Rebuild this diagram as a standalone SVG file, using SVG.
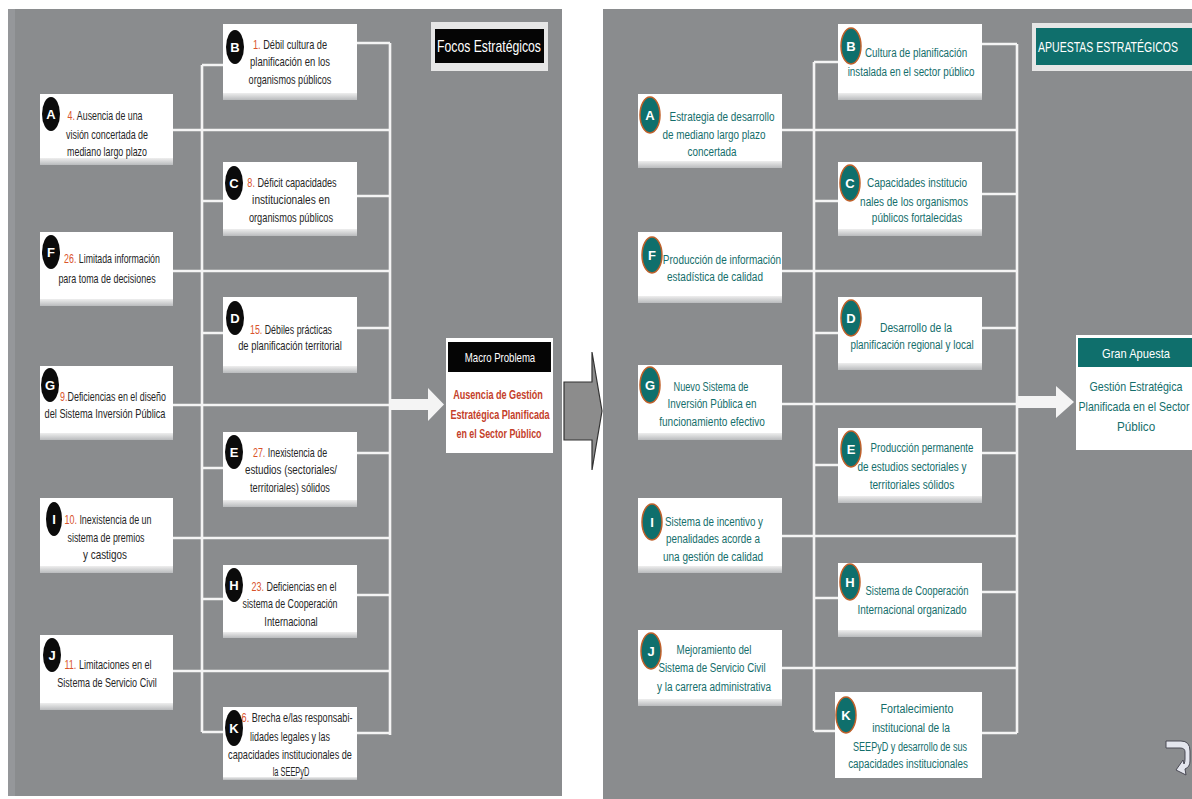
<svg xmlns="http://www.w3.org/2000/svg" width="1192" height="799" viewBox="0 0 1192 799">
  <defs>
    <linearGradient id="shade" x1="0" y1="0" x2="0" y2="1">
      <stop offset="0" stop-color="#eeeeee"/>
      <stop offset="1" stop-color="#b9bbbd"/>
    </linearGradient>
    <style>
      .panel { fill: #8a8c8e; }
      .box { fill: #ffffff; }
      .strip { fill: url(#shade); }
      .bus { stroke: #f4f4f4; stroke-width: 2.6; fill: none; }
      .arrow { fill: #f4f4f4; }
      text { font-family: 'Liberation Sans', Arial, sans-serif; }
      .lt { font-size: 13px; fill: #262626; text-anchor: middle; }
      .num { fill: #d9542b; }
      .rt { font-size: 13.5px; fill: #146e6b; text-anchor: middle; }
      .dot-k { fill: #0b0b0b; }
      .dot-t { fill: #0f6f6c; stroke: #c0602a; stroke-width: 1.5; }
      .badge { font-size: 13px; font-weight: bold; fill: #ffffff; text-anchor: middle; }
      .head { font-size: 12.5px; fill: #ffffff; text-anchor: middle; }
      .title { font-size: 16px; fill: #ffffff; }
      .red { font-size: 13px; font-weight: bold; fill: #c4402a; text-anchor: middle; }
      .teal { font-size: 13.5px; fill: #146e6b; text-anchor: middle; }
    </style>
  </defs>

  <rect width="1192" height="799" fill="#ffffff"/>

  <!-- left panel: causes -->
  <rect class="panel" x="8" y="9" width="554" height="787"/>
  <rect x="8" y="9" width="7" height="787" fill="#95979a"/>
  <!-- right panel: strategic bets -->
  <rect class="panel" x="603" y="9" width="589" height="790"/>

  <!-- transition arrow between panels -->
  <polygon points="564,382 592,382 592,352 602,411 592,470 592,440 564,440" fill="#8c8c8c" stroke="#333333" stroke-width="1.2"/>

  <!-- connectors -->
  <g id="connectors">
    <path class="bus" d="M202,65 V732 M390,43 V735
      M173,130 H390 M173,271 H390 M173,405 H390 M173,538 H390 M173,671 H390
      M202,65 H223 M357,43 H390
      M202,201 H223 M357,196 H390
      M202,333 H223 M357,328 H390
      M202,468 H223 M357,453 H390
      M202,599 H223 M357,595 H390
      M202,732 H223 M357,733 H390"/>
    <polygon class="arrow" points="390,399 428,399 428,388 444,404.5 428,421 428,410 390,410"/>
    <path class="bus" d="M814,62 V731 M1017,44 V733
      M782,130 H1017 M782,271 H1017 M782,404 H1017 M782,536 H1017 M782,668 H1017
      M814,62 H838 M982,44 H1017
      M814,201 H838 M982,194 H1017
      M814,333 H838 M982,328 H1017
      M814,465 H838 M982,453 H1017
      M814,598 H838 M982,592 H1017
      M814,731 H838 M982,733 H1017"/>
    <polygon class="arrow" points="1017,396 1056,396 1056,386 1074,402 1056,418 1056,408 1017,408"/>
  </g>

  <!-- panel titles -->
  <g id="focos-title">
    <rect x="431" y="22" width="117" height="49" fill="#e6e6e6"/>
    <rect x="435" y="29" width="109" height="34" fill="#050505"/>
    <text class="title" text-anchor="middle" transform="translate(489 52) scale(0.8 1)" textLength="130" lengthAdjust="spacingAndGlyphs">Focos Estratégicos</text>
  </g>
  <g id="apuestas-title">
    <rect x="1032" y="23" width="160" height="48" fill="#e6e6e6"/>
    <rect x="1036" y="28" width="156" height="37" fill="#0f6f6c"/>
    <text class="title" style="font-size:14px" transform="translate(1038 52) scale(0.8 1)" textLength="175" lengthAdjust="spacingAndGlyphs">APUESTAS ESTRATÉGICOS</text>
  </g>

  <!-- left panel, outer column -->
  <g id="foco-a">
    <rect class="box" x="40" y="94" width="133" height="71"/>
    <rect class="strip" x="40" y="158" width="133" height="7"/>
    <ellipse class="dot-k" cx="51" cy="114" rx="9" ry="17"/>
    <text class="badge" x="51" y="119">A</text>
    <text class="lt" transform="translate(105 120) scale(0.72 1)" textLength="104" lengthAdjust="spacingAndGlyphs"><tspan class="num">4.</tspan> Ausencia de una</text>
    <text class="lt" transform="translate(107 139) scale(0.72 1)" textLength="114" lengthAdjust="spacingAndGlyphs">visión concertada de</text>
    <text class="lt" transform="translate(107 156) scale(0.72 1)" textLength="111" lengthAdjust="spacingAndGlyphs">mediano largo plazo</text>
  </g>
  <g id="foco-f">
    <rect class="box" x="40" y="232" width="133" height="74"/>
    <rect class="strip" x="40" y="299" width="133" height="7"/>
    <ellipse class="dot-k" cx="51" cy="252" rx="9" ry="17"/>
    <text class="badge" x="51" y="257">F</text>
    <text class="lt" transform="translate(112 263) scale(0.72 1)" textLength="133" lengthAdjust="spacingAndGlyphs"><tspan class="num">26.</tspan> Limitada información</text>
    <text class="lt" transform="translate(107 283) scale(0.72 1)" textLength="135" lengthAdjust="spacingAndGlyphs">para toma de decisiones</text>
  </g>
  <g id="foco-g">
    <rect class="box" x="40" y="366" width="133" height="74"/>
    <rect class="strip" x="40" y="433" width="133" height="7"/>
    <ellipse class="dot-k" cx="50" cy="385" rx="9" ry="17"/>
    <text class="badge" x="50" y="390">G</text>
    <text class="lt" transform="translate(113 401) scale(0.72 1)" textLength="147" lengthAdjust="spacingAndGlyphs"><tspan class="num">9.</tspan>Deficiencias en el diseño</text>
    <text class="lt" transform="translate(105 418) scale(0.72 1)" textLength="168" lengthAdjust="spacingAndGlyphs">del Sistema  Inversión Pública</text>
  </g>
  <g id="foco-i">
    <rect class="box" x="40" y="498" width="133" height="75"/>
    <rect class="strip" x="40" y="566" width="133" height="7"/>
    <ellipse class="dot-k" cx="54" cy="519" rx="8" ry="17"/>
    <text class="badge" x="54" y="524">I</text>
    <text class="lt" transform="translate(108 524) scale(0.72 1)" textLength="121" lengthAdjust="spacingAndGlyphs"><tspan class="num">10.</tspan> Inexistencia de un</text>
    <text class="lt" transform="translate(106 542) scale(0.72 1)" textLength="107" lengthAdjust="spacingAndGlyphs">sistema de premios</text>
    <text class="lt" transform="translate(105 559) scale(0.72 1)" textLength="61" lengthAdjust="spacingAndGlyphs">y castigos</text>
  </g>
  <g id="foco-j">
    <rect class="box" x="40" y="635" width="133" height="75"/>
    <rect class="strip" x="40" y="703" width="133" height="7"/>
    <ellipse class="dot-k" cx="52" cy="655" rx="9" ry="17"/>
    <text class="badge" x="52" y="660">J</text>
    <text class="lt" transform="translate(108 669) scale(0.72 1)" textLength="121" lengthAdjust="spacingAndGlyphs"><tspan class="num">11.</tspan> Limitaciones en el</text>
    <text class="lt" transform="translate(107 687) scale(0.72 1)" textLength="138" lengthAdjust="spacingAndGlyphs">Sistema de Servicio Civil</text>
  </g>

  <!-- left panel, inner column -->
  <g id="foco-b">
    <rect class="box" x="223" y="24" width="134" height="76"/>
    <rect class="strip" x="223" y="93" width="134" height="7"/>
    <ellipse class="dot-k" cx="235" cy="47" rx="9" ry="17"/>
    <text class="badge" x="235" y="52">B</text>
    <text class="lt" transform="translate(290 49) scale(0.72 1)" textLength="103" lengthAdjust="spacingAndGlyphs"><tspan class="num">1.</tspan> Débil cultura de</text>
    <text class="lt" transform="translate(290 66) scale(0.72 1)" textLength="111" lengthAdjust="spacingAndGlyphs">planificación en los</text>
    <text class="lt" transform="translate(290 84) scale(0.72 1)" textLength="115" lengthAdjust="spacingAndGlyphs">organismos públicos</text>
  </g>
  <g id="foco-c">
    <rect class="box" x="223" y="162" width="134" height="74"/>
    <rect class="strip" x="223" y="229" width="134" height="7"/>
    <ellipse class="dot-k" cx="234" cy="183" rx="9" ry="17"/>
    <text class="badge" x="234" y="188">C</text>
    <text class="lt" transform="translate(292 187) scale(0.72 1)" textLength="124" lengthAdjust="spacingAndGlyphs"><tspan class="num">8.</tspan> Déficit capacidades</text>
    <text class="lt" transform="translate(291 204) scale(0.72 1)" textLength="108" lengthAdjust="spacingAndGlyphs">institucionales en</text>
    <text class="lt" transform="translate(291 222) scale(0.72 1)" textLength="117" lengthAdjust="spacingAndGlyphs">organismos públicos</text>
  </g>
  <g id="foco-d">
    <rect class="box" x="223" y="297" width="134" height="76"/>
    <rect class="strip" x="223" y="366" width="134" height="7"/>
    <ellipse class="dot-k" cx="235" cy="318" rx="9" ry="17"/>
    <text class="badge" x="235" y="323">D</text>
    <text class="lt" transform="translate(291 334) scale(0.72 1)" textLength="114" lengthAdjust="spacingAndGlyphs"><tspan class="num">15.</tspan> Débiles prácticas</text>
    <text class="lt" transform="translate(290 350) scale(0.72 1)" textLength="144" lengthAdjust="spacingAndGlyphs">de planificación territorial</text>
  </g>
  <g id="foco-e">
    <rect class="box" x="223" y="432" width="134" height="75"/>
    <rect class="strip" x="223" y="500" width="134" height="7"/>
    <ellipse class="dot-k" cx="234" cy="452" rx="9" ry="17"/>
    <text class="badge" x="234" y="457">E</text>
    <text class="lt" transform="translate(290 457) scale(0.72 1)" textLength="103" lengthAdjust="spacingAndGlyphs"><tspan class="num">27.</tspan> Inexistencia de</text>
    <text class="lt" transform="translate(291 474) scale(0.72 1)" textLength="128" lengthAdjust="spacingAndGlyphs">estudios (sectoriales/</text>
    <text class="lt" transform="translate(290 492) scale(0.72 1)" textLength="111" lengthAdjust="spacingAndGlyphs">territoriales) sólidos</text>
  </g>
  <g id="foco-h">
    <rect class="box" x="223" y="565" width="134" height="73"/>
    <rect class="strip" x="223" y="632" width="134" height="6"/>
    <ellipse class="dot-k" cx="234" cy="585" rx="9" ry="17"/>
    <text class="badge" x="234" y="590">H</text>
    <text class="lt" transform="translate(294 591) scale(0.72 1)" textLength="118" lengthAdjust="spacingAndGlyphs"><tspan class="num">23.</tspan> Deficiencias en el</text>
    <text class="lt" transform="translate(290 608) scale(0.72 1)" textLength="132" lengthAdjust="spacingAndGlyphs">sistema de Cooperación</text>
    <text class="lt" transform="translate(291 626) scale(0.72 1)" textLength="74" lengthAdjust="spacingAndGlyphs">Internacional</text>
  </g>
  <g id="foco-k">
    <rect class="box" x="223" y="707" width="134" height="73"/>
    <rect class="strip" x="223" y="777" width="134" height="3"/>
    <ellipse class="dot-k" cx="234" cy="728" rx="9" ry="18"/>
    <text class="badge" x="234" y="733">K</text>
    <text class="lt" transform="translate(297 722) scale(0.72 1)" textLength="154" lengthAdjust="spacingAndGlyphs"><tspan class="num">6.</tspan> Brecha e/las responsabi-</text>
    <text class="lt" transform="translate(290 741) scale(0.72 1)" textLength="111" lengthAdjust="spacingAndGlyphs">lidades legales y las</text>
    <text class="lt" transform="translate(290 759) scale(0.72 1)" textLength="172" lengthAdjust="spacingAndGlyphs">capacidades institucionales de</text>
    <text class="lt" transform="translate(291 776) scale(0.72 1)" textLength="51" lengthAdjust="spacingAndGlyphs">la SEEPyD</text>
  </g>

  <!-- central problem -->
  <g id="macro-problema">
    <rect class="box" x="446" y="338" width="107" height="115"/>
    <rect x="448" y="342" width="103" height="30" fill="#050505"/>
    <text class="head" transform="translate(500 362) scale(0.8 1)" textLength="88" lengthAdjust="spacingAndGlyphs">Macro Problema</text>
    <text class="red" transform="translate(498 399) scale(0.78 1)" textLength="115" lengthAdjust="spacingAndGlyphs">Ausencia de Gestión</text>
    <text class="red" transform="translate(500 419) scale(0.78 1)" textLength="127" lengthAdjust="spacingAndGlyphs">Estratégica Planificada</text>
    <text class="red" transform="translate(499 438) scale(0.78 1)" textLength="109" lengthAdjust="spacingAndGlyphs">en el Sector Público</text>
  </g>

  <!-- right panel, outer column -->
  <g id="apuesta-a">
    <rect class="box" x="638" y="94" width="144" height="74"/>
    <rect class="strip" x="638" y="161" width="144" height="7"/>
    <ellipse class="dot-t" cx="650" cy="115" rx="10" ry="18"/>
    <text class="badge" x="650" y="120">A</text>
    <text class="rt" transform="translate(722 121) scale(0.7 1)" textLength="150" lengthAdjust="spacingAndGlyphs">Estrategia de desarrollo</text>
    <text class="rt" transform="translate(714 139) scale(0.7 1)" textLength="147" lengthAdjust="spacingAndGlyphs">de mediano largo plazo</text>
    <text class="rt" transform="translate(712 156) scale(0.7 1)" textLength="70" lengthAdjust="spacingAndGlyphs">concertada</text>
  </g>
  <g id="apuesta-f">
    <rect class="box" x="638" y="232" width="144" height="71"/>
    <rect class="strip" x="638" y="296" width="144" height="7"/>
    <ellipse class="dot-t" cx="652" cy="255" rx="10" ry="18"/>
    <text class="badge" x="652" y="260">F</text>
    <text class="rt" transform="translate(722 264) scale(0.7 1)" textLength="169" lengthAdjust="spacingAndGlyphs">Producción de información</text>
    <text class="rt" transform="translate(715 281) scale(0.7 1)" textLength="137" lengthAdjust="spacingAndGlyphs">estadística de calidad</text>
  </g>
  <g id="apuesta-g">
    <rect class="box" x="638" y="365" width="144" height="75"/>
    <rect class="strip" x="638" y="433" width="144" height="7"/>
    <ellipse class="dot-t" cx="650" cy="385" rx="10" ry="18"/>
    <text class="badge" x="650" y="390">G</text>
    <text class="rt" transform="translate(711 391) scale(0.7 1)" textLength="107" lengthAdjust="spacingAndGlyphs">Nuevo Sistema de</text>
    <text class="rt" transform="translate(712 408) scale(0.7 1)" textLength="127" lengthAdjust="spacingAndGlyphs">Inversión Pública en</text>
    <text class="rt" transform="translate(712 426) scale(0.7 1)" textLength="151" lengthAdjust="spacingAndGlyphs">funcionamiento efectivo</text>
  </g>
  <g id="apuesta-i">
    <rect class="box" x="638" y="498" width="144" height="75"/>
    <rect class="strip" x="638" y="566" width="144" height="7"/>
    <ellipse class="dot-t" cx="652" cy="522" rx="10" ry="18"/>
    <text class="badge" x="652" y="527">I</text>
    <text class="rt" transform="translate(714 526) scale(0.7 1)" textLength="140" lengthAdjust="spacingAndGlyphs">Sistema de incentivo y</text>
    <text class="rt" transform="translate(713 543) scale(0.7 1)" textLength="134" lengthAdjust="spacingAndGlyphs">penalidades acorde a</text>
    <text class="rt" transform="translate(713 561) scale(0.7 1)" textLength="143" lengthAdjust="spacingAndGlyphs">una gestión de calidad</text>
  </g>
  <g id="apuesta-j">
    <rect class="box" x="638" y="630" width="144" height="76"/>
    <rect class="strip" x="638" y="699" width="144" height="7"/>
    <ellipse class="dot-t" cx="651" cy="651" rx="10" ry="18"/>
    <text class="badge" x="651" y="656">J</text>
    <text class="rt" transform="translate(714 654) scale(0.7 1)" textLength="107" lengthAdjust="spacingAndGlyphs">Mejoramiento del</text>
    <text class="rt" transform="translate(712 672) scale(0.7 1)" textLength="153" lengthAdjust="spacingAndGlyphs">Sistema de Servicio Civil</text>
    <text class="rt" transform="translate(714 691) scale(0.7 1)" textLength="163" lengthAdjust="spacingAndGlyphs">y la carrera administrativa</text>
  </g>

  <!-- right panel, inner column -->
  <g id="apuesta-b">
    <rect class="box" x="838" y="24" width="144" height="76"/>
    <rect class="strip" x="838" y="93" width="144" height="7"/>
    <ellipse class="dot-t" cx="851" cy="46" rx="10" ry="18"/>
    <text class="badge" x="851" y="51">B</text>
    <text class="rt" transform="translate(916 57) scale(0.7 1)" textLength="146" lengthAdjust="spacingAndGlyphs">Cultura de planificación</text>
    <text class="rt" transform="translate(911 76) scale(0.7 1)" textLength="181" lengthAdjust="spacingAndGlyphs">instalada en el sector público</text>
  </g>
  <g id="apuesta-c">
    <rect class="box" x="838" y="162" width="144" height="74"/>
    <rect class="strip" x="838" y="229" width="144" height="7"/>
    <ellipse class="dot-t" cx="850" cy="183" rx="10" ry="18"/>
    <text class="badge" x="850" y="188">C</text>
    <text class="rt" transform="translate(917 187) scale(0.7 1)" textLength="143" lengthAdjust="spacingAndGlyphs">Capacidades institucio</text>
    <text class="rt" transform="translate(914 206) scale(0.7 1)" textLength="154" lengthAdjust="spacingAndGlyphs">nales de los organismos</text>
    <text class="rt" transform="translate(917 222) scale(0.7 1)" textLength="129" lengthAdjust="spacingAndGlyphs">públicos fortalecidas</text>
  </g>
  <g id="apuesta-d">
    <rect class="box" x="838" y="297" width="144" height="73"/>
    <rect class="strip" x="838" y="363" width="144" height="7"/>
    <ellipse class="dot-t" cx="851" cy="318" rx="10" ry="18"/>
    <text class="badge" x="851" y="323">D</text>
    <text class="rt" transform="translate(916 332) scale(0.7 1)" textLength="103" lengthAdjust="spacingAndGlyphs">Desarrollo de la</text>
    <text class="rt" transform="translate(912 349) scale(0.7 1)" textLength="176" lengthAdjust="spacingAndGlyphs">planificación regional y local</text>
  </g>
  <g id="apuesta-e">
    <rect class="box" x="838" y="428" width="144" height="75"/>
    <rect class="strip" x="838" y="496" width="144" height="7"/>
    <ellipse class="dot-t" cx="851" cy="449" rx="10" ry="18"/>
    <text class="badge" x="851" y="454">E</text>
    <text class="rt" transform="translate(922 452) scale(0.7 1)" textLength="147" lengthAdjust="spacingAndGlyphs">Producción permanente</text>
    <text class="rt" transform="translate(912 471) scale(0.7 1)" textLength="156" lengthAdjust="spacingAndGlyphs">de estudios sectoriales y</text>
    <text class="rt" transform="translate(912 489) scale(0.7 1)" textLength="121" lengthAdjust="spacingAndGlyphs">territoriales sólidos</text>
  </g>
  <g id="apuesta-h">
    <rect class="box" x="838" y="563" width="144" height="74"/>
    <rect class="strip" x="838" y="630" width="144" height="7"/>
    <ellipse class="dot-t" cx="850" cy="582" rx="10" ry="18"/>
    <text class="badge" x="850" y="587">H</text>
    <text class="rt" transform="translate(917 595) scale(0.7 1)" textLength="147" lengthAdjust="spacingAndGlyphs">Sistema de Cooperación</text>
    <text class="rt" transform="translate(912 614) scale(0.7 1)" textLength="156" lengthAdjust="spacingAndGlyphs">Internacional organizado</text>
  </g>
  <g id="apuesta-k">
    <rect class="box" x="835" y="692" width="147" height="86"/>
    <ellipse class="dot-t" cx="846" cy="715" rx="10" ry="18"/>
    <text class="badge" x="846" y="720">K</text>
    <text class="rt" transform="translate(917 713) scale(0.7 1)" textLength="104" lengthAdjust="spacingAndGlyphs">Fortalecimiento</text>
    <text class="rt" transform="translate(911 732) scale(0.7 1)" textLength="111" lengthAdjust="spacingAndGlyphs">institucional de la</text>
    <text class="rt" transform="translate(910 751) scale(0.7 1)" textLength="163" lengthAdjust="spacingAndGlyphs">SEEPyD y desarrollo de sus</text>
    <text class="rt" transform="translate(908 768) scale(0.7 1)" textLength="171" lengthAdjust="spacingAndGlyphs">capacidades institucionales</text>
  </g>

  <!-- central bet -->
  <g id="gran-apuesta">
    <rect class="box" x="1076" y="335" width="116" height="115"/>
    <rect x="1078" y="338" width="114" height="29" fill="#0f6f6c"/>
    <text class="head" transform="translate(1136 358) scale(0.8 1)" textLength="85" lengthAdjust="spacingAndGlyphs">Gran Apuesta</text>
    <text class="teal" transform="translate(1136 391) scale(0.75 1)" textLength="124" lengthAdjust="spacingAndGlyphs">Gestión Estratégica</text>
    <text class="teal" transform="translate(1134 411) scale(0.75 1)" textLength="148" lengthAdjust="spacingAndGlyphs">Planificada en el Sector</text>
    <text class="teal" transform="translate(1136 431) scale(0.75 1)" textLength="51" lengthAdjust="spacingAndGlyphs">Público</text>
  </g>

  <!-- return icon -->
  <g id="return-icon">
    <path d="M1166,741 L1181,741 Q1190,741 1190,751 L1190,761 Q1190,767 1185,769 L1186,775 L1176,770 L1183,760 L1184,764 Q1185,762 1185,759 L1185,752 Q1185,748 1180,748 L1166,748 Z" fill="#e4e6ee" stroke="#4a4a55" stroke-width="1"/>
  </g>
</svg>
